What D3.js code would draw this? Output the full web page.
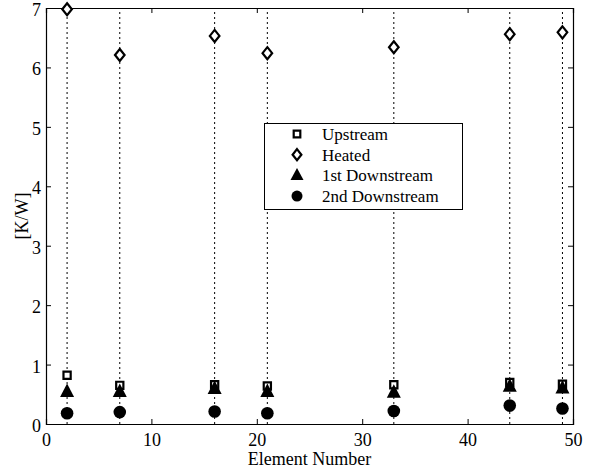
<!DOCTYPE html>
<html>
<head>
<meta charset="utf-8">
<script src="https://cdn.jsdelivr.net/npm/d3@7"></script>
<style>
  html, body { margin: 0; padding: 0; background: #fff; }
  svg { display: block; }
</style>
</head>
<body>
<script>
// Thermal resistance per element, four sensor groups
const elements = [2, 7, 16, 21, 33, 44, 49];
const upstream = [0.82, 0.65, 0.66, 0.64, 0.66, 0.70, 0.67];
const heated = [6.98, 6.21, 6.53, 6.24, 6.34, 6.56, 6.59];
const downstream1 = [0.54, 0.54, 0.59, 0.54, 0.53, 0.63, 0.60];
const downstream2 = [0.18, 0.20, 0.21, 0.18, 0.22, 0.31, 0.26];
const xTicks = [0, 10, 20, 30, 40, 50];
const yTicks = [0, 1, 2, 3, 4, 5, 6, 7];
const seriesNames = ["Upstream", "Heated", "1st Downstream", "2nd Downstream"];

const FONT = '"Liberation Serif", "Times New Roman", Times, serif';
const W = 593, H = 470;
const margin = { left: 46, right: 20, top: 8, bottom: 46 };

const svg = d3.select("body").append("svg").attr("width", W).attr("height", H)
  .attr("font-family", FONT);

const x = d3.scaleLinear().domain([0, 50]).range([margin.left, W - margin.right]);
const y = d3.scaleLinear().domain([0, 7]).range([H - margin.bottom, margin.top]);

// dotted guide lines at each measured element
svg.append("g").selectAll("line").data(elements).join("line")
  .attr("x1", d => x(d)).attr("x2", d => x(d))
  .attr("y1", y(0)).attr("y2", y(7))
  .attr("stroke", "#000").attr("stroke-width", 1)
  .attr("stroke-dasharray", "2,3");

// axes: ticks drawn inward on all four sides
const tickLen = 5;
const fmt = d3.format("d");
const gx = svg.append("g").attr("transform", `translate(0,${y(0)})`)
  .call(d3.axisBottom(x).tickValues(xTicks).tickFormat(fmt).tickSize(-tickLen).tickPadding(9));
const gxTop = svg.append("g").attr("transform", `translate(0,${y(7)})`)
  .call(d3.axisTop(x).tickValues(xTicks).tickSize(-tickLen).tickFormat(""));
const gy = svg.append("g").attr("transform", `translate(${x(0)},0)`)
  .call(d3.axisLeft(y).tickValues(yTicks).tickFormat(fmt).tickSize(-tickLen).tickPadding(5));
const gyR = svg.append("g").attr("transform", `translate(${x(50)},0)`)
  .call(d3.axisRight(y).tickValues(yTicks).tickSize(-tickLen).tickFormat(""));

[gx, gxTop, gy, gyR].forEach(g => {
  g.attr("font-family", FONT).attr("font-size", 18);
  g.select(".domain").attr("stroke", "#000").attr("stroke-width", 1.2);
  g.selectAll(".tick line").attr("stroke", "#000").attr("stroke-width", 1);
  g.selectAll(".tick text").attr("fill", "#000");
});
gy.selectAll(".tick text").attr("dy", "0.42em");

// axis titles
svg.append("text")
  .attr("x", (x(0) + x(50)) / 2).attr("y", 465)
  .attr("text-anchor", "middle").attr("font-size", 18).attr("fill", "#000")
  .text("Element Number");
svg.append("text")
  .attr("transform", `translate(28,${(y(0) + y(7)) / 2}) rotate(-90)`)
  .attr("text-anchor", "middle").attr("font-size", 18).attr("fill", "#000")
  .text("[K/W]");

// marker shapes
function squarePath(s) { return `M${-s},${-s}H${s}V${s}H${-s}Z`; }
function diamondPath(w, h) { return `M0,${-h}L${w},0L0,${h}L${-w},0Z`; }
function trianglePath(w, h) { return `M0,${-h * 0.62}L${w},${h * 0.38}L${-w},${h * 0.38}Z`; }

const markers = [
  { name: seriesNames[0], values: upstream,
    draw: (g, big) => g.append("path").attr("d", squarePath(big ? 3.6 : 3.3))
      .attr("fill", "#fff").attr("stroke", "#000").attr("stroke-width", 2.2) },
  { name: seriesNames[1], values: heated,
    draw: (g, big) => g.append("path").attr("d", big ? diamondPath(4.8, 6) : diamondPath(4.4, 5.6))
      .attr("fill", "#fff").attr("stroke", "#000").attr("stroke-width", 2.2) },
  { name: seriesNames[2], values: downstream1,
    draw: (g, big) => g.append("path").attr("d", big ? trianglePath(7, 13.5) : trianglePath(6.5, 12))
      .attr("fill", "#000") },
  { name: seriesNames[3], values: downstream2,
    draw: (g, big) => g.append("circle").attr("r", big ? 6.3 : 5.5).attr("fill", "#000") }
];

markers.forEach(m => {
  const layer = svg.append("g");
  elements.forEach((e, i) => {
    const g = layer.append("g").attr("transform", `translate(${x(e)},${y(m.values[i])})`);
    m.draw(g, true);
  });
});

// legend
const legend = svg.append("g");
legend.append("rect")
  .attr("x", 264.5).attr("y", 123.5).attr("width", 198).attr("height", 86)
  .attr("fill", "#fff").attr("stroke", "#000").attr("stroke-width", 1);
markers.forEach((m, i) => {
  const cy = 134 + i * 20.7;
  const g = legend.append("g").attr("transform", `translate(297,${cy})`);
  m.draw(g, false);
  legend.append("text")
    .attr("x", 322).attr("y", cy + 6)
    .attr("font-size", 17).attr("fill", "#000")
    .text(m.name);
});
</script>
</body>
</html>
